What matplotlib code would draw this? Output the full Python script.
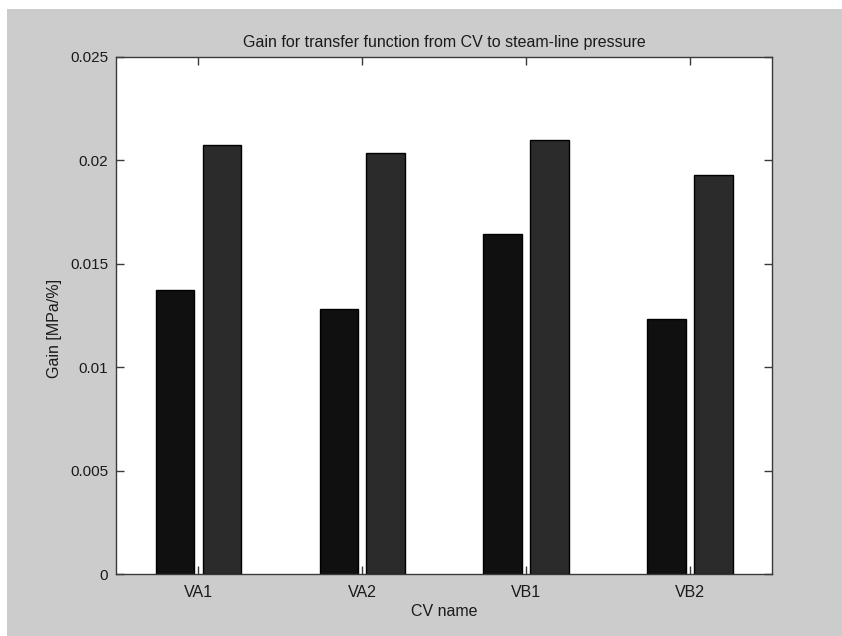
import matplotlib
matplotlib.use("Agg")
import matplotlib.pyplot as plt
from matplotlib.patches import Rectangle
import numpy as np

# Gain values for each control valve (two cases per valve)
cv_names = ["VA1", "VA2", "VB1", "VB2"]
gain_case1 = [0.01374, 0.01282, 0.01643, 0.01234]
gain_case2 = [0.02074, 0.02037, 0.02099, 0.01929]
y_ticks = [0, 0.005, 0.01, 0.015, 0.02, 0.025]
y_tick_labels = ["0", "0.005", "0.01", "0.015", "0.02", "0.025"]

plt.rcParams["font.family"] = ["Liberation Sans", "DejaVu Sans"]

W, H = 842, 636
fig = plt.figure(figsize=(W / 100, H / 100), dpi=100)
fig.patch.set_facecolor("white")
# grey figure panel (white margin on top and left edge)
fig.patches.append(Rectangle((7 / W, 0), 1 - 7 / W, 1 - 9 / H,
                             transform=fig.transFigure, facecolor="#cccccc",
                             edgecolor="none", zorder=-10))

left, right, top, bottom = 116.5, 772, 57, 574
ax = fig.add_axes([left / W, 1 - bottom / H, (right - left) / W, (bottom - top) / H])
ax.set_facecolor("white")

x = np.arange(1, len(cv_names) + 1)
offset = 0.143
width = 0.235
ax.bar(x - offset, gain_case1, width, color="#101010", edgecolor="#000000",
       linewidth=1.0, zorder=2)
ax.bar(x + offset, gain_case2, width, color="#2b2b2b", edgecolor="#000000",
       linewidth=1.0, zorder=2)

ax.set_xlim(0.5, 4.5)
ax.set_ylim(0, 0.025)
ax.set_xticks(x)
ax.set_xticklabels(cv_names)
ax.set_yticks(y_ticks)
ax.set_yticklabels(y_tick_labels)

for s in ax.spines.values():
    s.set_color("#3a3a3a")
    s.set_linewidth(1.0)
    s.set_zorder(3)

ax.tick_params(direction="in", length=6, width=1.0, color="#3a3a3a",
               top=True, right=True, labelcolor="#1a1a1a")
ax.tick_params(axis="x", pad=8, labelsize=11.5)
ax.tick_params(axis="y", pad=6, labelsize=11)

ax.set_title("Gain for transfer function from CV to steam-line pressure",
             fontsize=11.5, color="#1a1a1a", pad=7)
ax.set_xlabel("CV name", fontsize=11.5, color="#1a1a1a", labelpad=3)
ax.set_ylabel("Gain [MPa/%]", fontsize=11.5, color="#1a1a1a")
ax.yaxis.set_label_coords(-0.083, 0.475)

fig.savefig("out.png", dpi=100, facecolor=fig.get_facecolor())
